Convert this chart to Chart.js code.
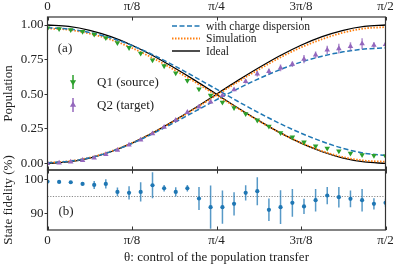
<!DOCTYPE html>
<html>
<head>
<meta charset="utf-8">
<script src="https://cdn.jsdelivr.net/npm/chart.js@4.4.1/dist/chart.umd.min.js"></script>
<style>
  html, body { margin: 0; padding: 0; background: #fff; }
  #wrap { position: relative; width: 399px; height: 266px; }
  canvas { position: absolute; left: 0; top: 0; }
</style>
</head>
<body>
<div id="wrap">
  <canvas id="pop" width="399" height="266"></canvas>
  <canvas id="fid" width="399" height="266"></canvas>
</div>
<script>
// --- data ---
const tickVals = [0, Math.PI / 8, Math.PI / 4, 3 * Math.PI / 8, Math.PI / 2];
const tickLabels = ['0', 'π/8', 'π/4', '3π/8', 'π/2'];
const popTicks = [0, 0.25, 0.5, 0.75, 1];
const fidTicks = [90, 100];

// measured points (30 settings of theta)
const thetaPts = [0, 0.054, 0.108, 0.163, 0.217, 0.271, 0.325, 0.379, 0.433, 0.488,
  0.542, 0.596, 0.650, 0.704, 0.758, 0.813, 0.867, 0.921, 0.975, 1.029,
  1.083, 1.138, 1.192, 1.246, 1.300, 1.354, 1.408, 1.462, 1.517, 1.571];
const q1Vals = [0.978, 0.972, 0.965, 0.952, 0.933, 0.908, 0.872, 0.836, 0.795, 0.747,
  0.704, 0.653, 0.599, 0.537, 0.491, 0.441, 0.401, 0.358, 0.312, 0.268,
  0.221, 0.189, 0.153, 0.125, 0.108, 0.089, 0.072, 0.062, 0.056, 0.052];
const q1Err = [0.004, 0.004, 0.004, 0.005, 0.005, 0.005, 0.006, 0.006, 0.006, 0.006,
  0.007, 0.007, 0.007, 0.008, 0.008, 0.008, 0.008, 0.008, 0.008, 0.008,
  0.008, 0.008, 0.008, 0.008, 0.008, 0.008, 0.008, 0.008, 0.008, 0.008];
const q2Vals = [0.0, 0.003, 0.010, 0.022, 0.040, 0.065, 0.095, 0.133, 0.170, 0.215,
  0.262, 0.312, 0.369, 0.408, 0.444, 0.491, 0.532, 0.592, 0.647, 0.664,
  0.690, 0.717, 0.753, 0.784, 0.820, 0.830, 0.845, 0.865, 0.855, 0.860];
const q2Err = [0.003, 0.003, 0.003, 0.003, 0.004, 0.004, 0.005, 0.005, 0.005, 0.006,
  0.006, 0.007, 0.008, 0.008, 0.010, 0.008, 0.010, 0.015, 0.020, 0.020,
  0.025, 0.020, 0.030, 0.025, 0.030, 0.035, 0.030, 0.040, 0.020, 0.015];
const fidVals = [99.5, 99.4, 99.3, 98.8, 98.5, 98.8, 96.4, 96.1, 96.4, 98.4,
  97.5, 96.4, 97.5, 94.4, 91.8, 91.8, 92.8, 96.1, 96.6, 91.0,
  91.8, 93.1, 92.0, 93.9, 95.3, 94.8, 94.3, 93.9, 92.8, 93.1];
const fidErr = [0.2, 0.2, 0.2, 0.3, 1.2, 1.4, 1.3, 2.0, 2.9, 3.9,
  1.0, 1.4, 1.0, 3.5, 6.5, 5.0, 3.5, 2.3, 4.2, 3.4,
  5.1, 4.2, 2.3, 3.4, 2.6, 3.1, 2.5, 3.4, 1.7, 1.2];
const fidRef = 95.0;

// curves sampled every pi/32
const thetaFine = [0, 0.0982, 0.1963, 0.2945, 0.3927, 0.4909, 0.5890, 0.6872, 0.7854,
  0.8836, 0.9817, 1.0799, 1.1781, 1.2763, 1.3744, 1.4726, 1.5708];
const idealQ1 = [1, 0.990, 0.962, 0.916, 0.854, 0.778, 0.691, 0.598, 0.500,
  0.402, 0.309, 0.222, 0.146, 0.084, 0.038, 0.010, 0];
const idealQ2 = [0, 0.010, 0.038, 0.084, 0.146, 0.222, 0.309, 0.402, 0.500,
  0.598, 0.691, 0.778, 0.854, 0.916, 0.962, 0.990, 1];
const simQ1 = [0.975, 0.966, 0.938, 0.894, 0.834, 0.760, 0.676, 0.586, 0.492,
  0.398, 0.307, 0.222, 0.149, 0.089, 0.045, 0.020, 0.012];
const simQ2 = [0.005, 0.015, 0.042, 0.087, 0.147, 0.221, 0.306, 0.397, 0.493,
  0.588, 0.679, 0.764, 0.838, 0.898, 0.945, 0.975, 0.985];
const dispQ1 = [0.980, 0.971, 0.946, 0.906, 0.852, 0.784, 0.706, 0.622, 0.536,
  0.449, 0.366, 0.288, 0.218, 0.158, 0.108, 0.073, 0.058];
const dispQ2 = [0.005, 0.015, 0.040, 0.085, 0.144, 0.216, 0.295, 0.377, 0.460,
  0.539, 0.612, 0.677, 0.732, 0.775, 0.806, 0.826, 0.835];

const serif = "'Liberation Serif', 'DejaVu Serif', serif";
const ink = '#222';
const GREEN = '#2ca02c', PURPLE = '#9467bd', BLUE = '#1f77b4', ORANGE = '#ff7f0e';

const pts = (xs, ys) => xs.map((x, i) => ({ x, y: ys[i] }));

// error bars drawn just under their markers
const errorBars = {
  id: 'errorBars',
  beforeDatasetDraw(chart, args) {
    const ds = chart.data.datasets[args.index];
    if (!ds.errors) return;
    const { ctx, chartArea: a, scales: { x, y } } = chart;
    ctx.save();
    ctx.beginPath();
    ctx.rect(a.left, a.top, a.right - a.left, a.bottom - a.top);
    ctx.clip();
    ctx.strokeStyle = ds.errorColor;
    ctx.lineWidth = 1.5;
    ds.data.forEach((p, i) => {
      const px = x.getPixelForValue(p.x);
      ctx.beginPath();
      ctx.moveTo(px, y.getPixelForValue(p.y - ds.errors[i]));
      ctx.lineTo(px, y.getPixelForValue(p.y + ds.errors[i]));
      ctx.stroke();
    });
    ctx.restore();
  }
};

// box around the plot and inward x ticks
const frame = {
  id: 'frame',
  afterDraw(chart) {
    const { ctx, chartArea: a, scales: { x } } = chart;
    ctx.save();
    ctx.strokeStyle = '#333';
    ctx.lineWidth = 1.2;
    ctx.strokeRect(a.left, a.top, a.right - a.left, a.bottom - a.top);
    ctx.lineWidth = 1;
    x.ticks.forEach(t => {
      const px = Math.round(x.getPixelForValue(t.value)) + 0.5;
      ctx.beginPath();
      ctx.moveTo(px, a.top); ctx.lineTo(px, a.top + 3.5);
      ctx.moveTo(px, a.bottom); ctx.lineTo(px, a.bottom - 3.5);
      ctx.stroke();
    });
    ctx.restore();
  }
};

function tri(ctx, x, y, r, down) {
  const s = down ? -1 : 1;
  ctx.beginPath();
  ctx.moveTo(x, y - s * r);
  ctx.lineTo(x + r * 0.866, y + s * r * 0.5);
  ctx.lineTo(x - r * 0.866, y + s * r * 0.5);
  ctx.closePath();
  ctx.fill();
}

const popNotes = {
  id: 'popNotes',
  afterDraw(chart) {
    const ctx = chart.ctx;
    ctx.save();
    // line legend
    const lines = [
      { y: 26, color: BLUE, dash: [5, 2.5], w: 1.5, text: 'with charge dispersion' },
      { y: 38.5, color: ORANGE, dash: [1.5, 1.5], w: 1.8, text: 'Simulation' },
      { y: 51, color: '#000', dash: [], w: 1.4, text: 'Ideal' }
    ];
    ctx.font = '11.5px ' + serif;
    ctx.textBaseline = 'middle';
    lines.forEach(l => {
      ctx.strokeStyle = l.color; ctx.lineWidth = l.w; ctx.setLineDash(l.dash);
      ctx.beginPath(); ctx.moveTo(172, l.y); ctx.lineTo(200, l.y); ctx.stroke();
      ctx.fillStyle = ink;
      ctx.fillText(l.text, 206, l.y + 0.5);
    });
    ctx.setLineDash([]);
    // marker legend
    const marks = [
      { y: 82, color: GREEN, down: true, text: 'Q1 (source)' },
      { y: 105, color: PURPLE, down: false, text: 'Q2 (target)' }
    ];
    ctx.font = '13px ' + serif;
    marks.forEach(m => {
      ctx.strokeStyle = m.color; ctx.lineWidth = 1.5;
      ctx.beginPath(); ctx.moveTo(73, m.y - 7); ctx.lineTo(73, m.y + 7); ctx.stroke();
      ctx.fillStyle = m.color;
      tri(ctx, 73, m.y, 3.6, m.down);
      ctx.fillStyle = ink;
      ctx.fillText(m.text, 97, m.y + 0.5);
    });
    ctx.textAlign = 'center';
    ctx.fillText('(a)', 65, 49);
    ctx.restore();
  }
};

const fidNotes = {
  id: 'fidNotes',
  afterDraw(chart) {
    const ctx = chart.ctx;
    ctx.save();
    ctx.font = '13px ' + serif;
    ctx.fillStyle = ink;
    ctx.textAlign = 'center';
    ctx.textBaseline = 'middle';
    ctx.fillText('(b)', 66, 211.5);
    ctx.restore();
  }
};

const tickFont = { family: serif, size: 13 };

function xScale(position, showLabels, height) {
  return {
    type: 'linear', position, min: 0, max: Math.PI / 2,
    afterBuildTicks: s => { s.ticks = tickVals.map(v => ({ value: v })); },
    ticks: {
      display: showLabels, autoSkip: false, maxRotation: 0, padding: 3,
      font: tickFont, color: ink,
      callback: (v, i) => tickLabels[i]
    },
    grid: { display: false, drawTicks: false },
    border: { display: false },
    afterFit: s => { s.height = height; }
  };
}

function yScale(min, max, ticks, fmt, title) {
  return {
    min, max,
    afterBuildTicks: s => { s.ticks = ticks.map(v => ({ value: v })); },
    ticks: { padding: 1, font: tickFont, color: ink, callback: fmt },
    grid: { drawOnChartArea: false, tickLength: 3, color: '#333' },
    border: { display: false },
    title: { display: true, text: title, font: { family: serif, size: 13 }, color: ink, padding: { top: 1, bottom: 0 } },
    afterFit: s => { s.width = 47.5; }
  };
}

const common = {
  responsive: false,
  animation: false,
  events: [],
  plugins: { legend: { display: false }, tooltip: { enabled: false } }
};

new Chart(document.getElementById('pop'), {
  type: 'scatter',
  data: {
    datasets: [
      { data: pts(thetaPts, q1Vals), errors: q1Err, errorColor: 'rgba(44,160,44,0.8)',
        backgroundColor: GREEN, borderWidth: 0, pointStyle: 'triangle', pointRotation: 180, pointRadius: 3.2 },
      { data: pts(thetaPts, q2Vals), errors: q2Err, errorColor: 'rgba(148,103,189,0.75)',
        backgroundColor: PURPLE, borderWidth: 0, pointStyle: 'triangle', pointRadius: 3.2 },
      { data: pts(thetaFine, dispQ1), showLine: true, borderColor: BLUE, borderWidth: 1.5, borderDash: [5, 2.5], pointRadius: 0, cubicInterpolationMode: 'monotone' },
      { data: pts(thetaFine, dispQ2), showLine: true, borderColor: BLUE, borderWidth: 1.5, borderDash: [5, 2.5], pointRadius: 0, cubicInterpolationMode: 'monotone' },
      { data: pts(thetaFine, simQ1), showLine: true, borderColor: ORANGE, borderWidth: 1.8, borderDash: [1.5, 1.5], pointRadius: 0, cubicInterpolationMode: 'monotone' },
      { data: pts(thetaFine, simQ2), showLine: true, borderColor: ORANGE, borderWidth: 1.8, borderDash: [1.5, 1.5], pointRadius: 0, cubicInterpolationMode: 'monotone' },
      { data: pts(thetaFine, idealQ1), showLine: true, borderColor: '#000', borderWidth: 1.3, pointRadius: 0, cubicInterpolationMode: 'monotone' },
      { data: pts(thetaFine, idealQ2), showLine: true, borderColor: '#000', borderWidth: 1.3, pointRadius: 0, cubicInterpolationMode: 'monotone' }
    ]
  },
  options: {
    ...common,
    layout: { padding: { left: 0, right: 13.5, top: 0, bottom: 96 } },
    scales: {
      x: xScale('top', true, 17),
      y: yScale(-0.048, 1.058, popTicks, v => v.toFixed(2), 'Population')
    }
  },
  plugins: [errorBars, frame, popNotes]
});

new Chart(document.getElementById('fid'), {
  type: 'scatter',
  data: {
    datasets: [
      { data: pts(thetaPts, fidVals), errors: fidErr, errorColor: 'rgba(31,119,180,0.75)',
        backgroundColor: BLUE, borderWidth: 0, pointRadius: 2.1 },
      { data: [{ x: 0, y: fidRef }, { x: Math.PI / 2, y: fidRef }], showLine: true,
        borderColor: '#8a8a8a', borderWidth: 1.2, borderDash: [1.2, 1.5], pointRadius: 0 }
    ]
  },
  options: {
    ...common,
    layout: { padding: { left: 0, right: 13.5, top: 170, bottom: 0 } },
    scales: {
      x: {
        ...xScale('bottom', true, 36),
        title: { display: true, text: 'θ: control of the population transfer', font: { family: serif, size: 13 }, color: ink, padding: { top: 0, bottom: 1 } }
      },
      y: yScale(84.9, 103, fidTicks, v => String(v), 'State fidelity (%)')
    }
  },
  plugins: [errorBars, frame, fidNotes]
});
</script>
</body>
</html>
